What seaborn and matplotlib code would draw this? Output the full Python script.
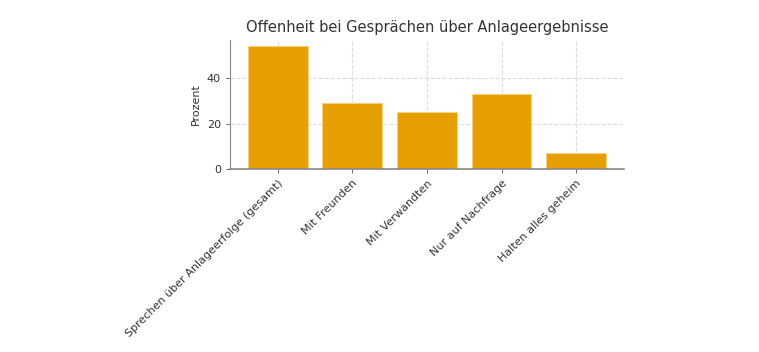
import pandas as pd
import matplotlib
matplotlib.use('Agg')
import matplotlib.pyplot as plt
import seaborn as sns

kategorien = ["Sprechen über Anlageerfolge (gesamt)", "Mit Freunden", "Mit Verwandten",
              "Nur auf Nachfrage", "Halten alles geheim"]
prozent = [54, 29, 25, 33, 7]

df = pd.DataFrame({"Kategorie": kategorien, "Prozent": prozent})

sns.set_style("whitegrid", {"grid.linestyle": "--", "grid.color": "#dddddd",
                            "axes.edgecolor": "#888888", "text.color": "#333333",
                            "axes.labelcolor": "#333333", "xtick.color": "#333333",
                            "ytick.color": "#333333"})
plt.rcParams['font.family'] = ['DejaVu Sans']

fig = plt.figure(figsize=(7.59, 3.52), dpi=100)
ax = fig.add_axes([0.303, 0.520, 0.519, 0.366])
sns.barplot(x="Kategorie", y="Prozent", data=df, color="#E69F00", saturation=1,
            edgecolor="#f5d080", linewidth=0.8, width=0.8, ax=ax)
ax.set_xlim(-0.64, len(kategorien) - 1 + 0.64)
ax.xaxis.grid(True)
ax.yaxis.grid(True)
ax.set_title("Offenheit bei Gesprächen über Anlageergebnisse", fontsize=10.5, color="#333333")
ax.set_xlabel("")
ax.set_ylabel("Prozent", fontsize=8)
ax.tick_params(axis="both", labelsize=8, length=3, width=0.6, color="#555555")
ax.tick_params(axis="x", bottom=True)
ax.tick_params(axis="y", left=True)
plt.setp(ax.get_xticklabels(), rotation=45, ha="right", rotation_mode="anchor")
ax.set_yticks([0, 20, 40])
ax.set_axisbelow(True)
sns.despine(ax=ax)
ax.spines["left"].set_linewidth(0.8)
ax.spines["bottom"].set_linewidth(1.2)
plt.savefig("out.png")
plt.close()
